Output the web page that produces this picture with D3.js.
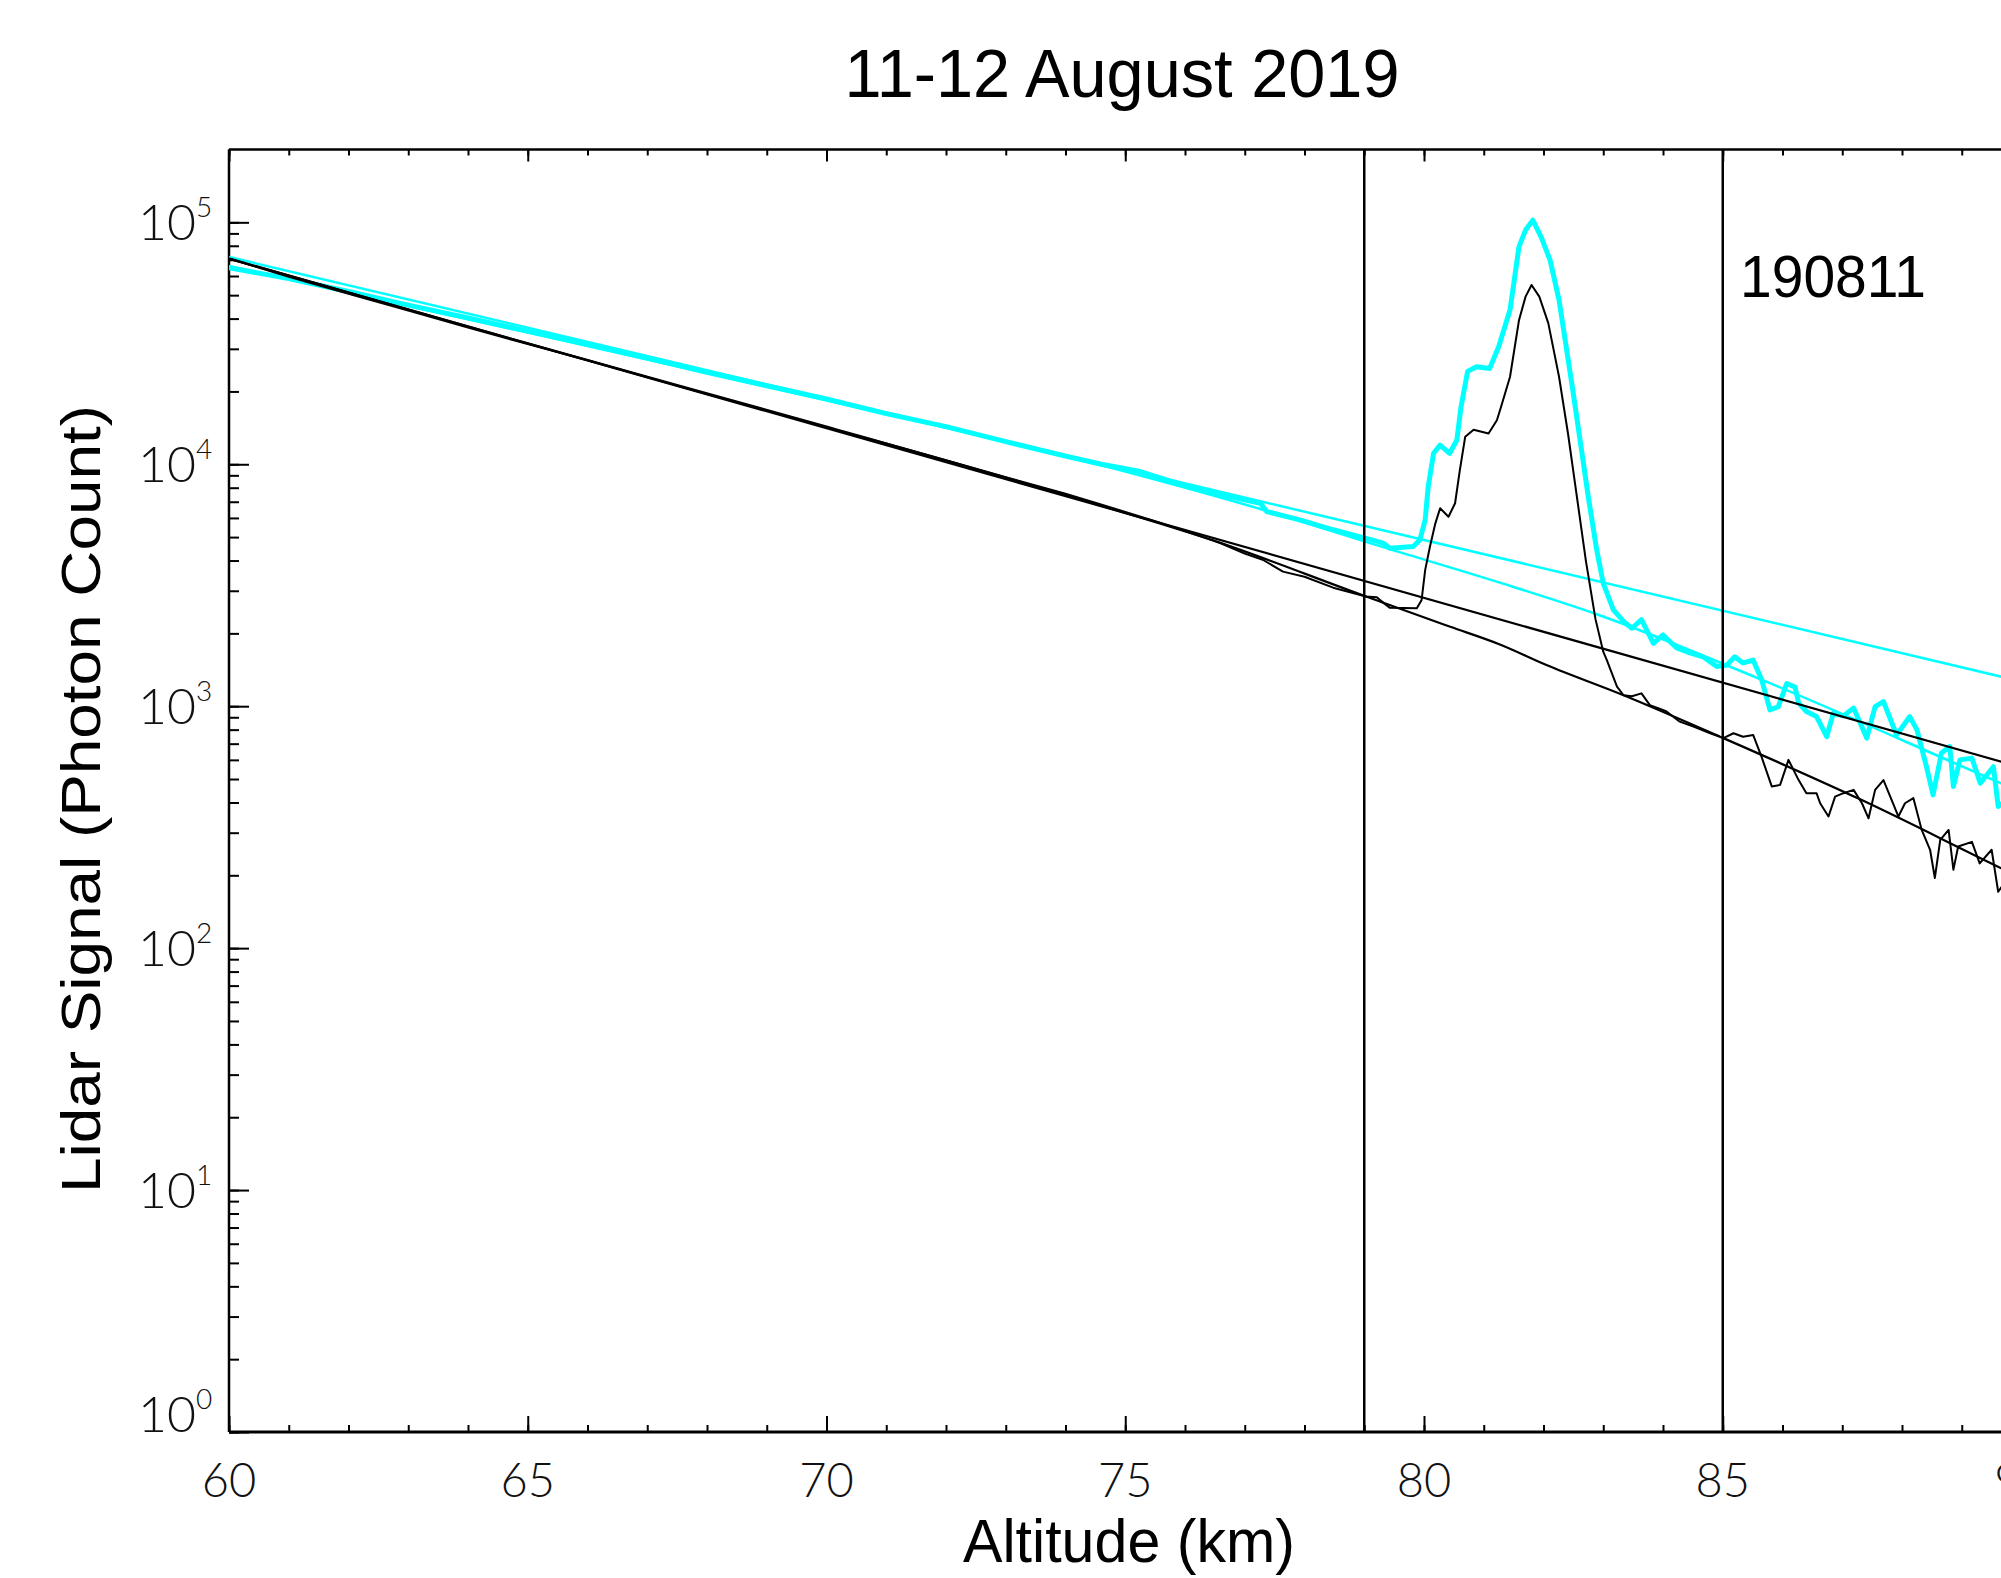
<!DOCTYPE html>
<html><head><meta charset="utf-8">
<script src="https://cdn.jsdelivr.net/npm/d3@7"></script>
<style>html,body{margin:0;padding:0;background:#fff;} svg{display:block;}</style>
</head><body>
<svg id="chart" width="2001" height="1578"></svg>
<script>
// ---------- text ----------
const titleText = "11-12 August 2019";
const xLabelText = "Altitude (km)";
const yLabelText = "Lidar Signal (Photon Count)";
const profileLabel = "190811";

// ---------- axes ----------
const xDomain = [60, 90];
const yDomain = [1, 2e5];
const xMajorTicks = [60, 65, 70, 75, 80, 85, 90];
const xTickLabels = ["60", "65", "70", "75", "80", "85", "90"];
const yExponents = [0, 1, 2, 3, 4, 5];
const markerAltitudes = [79, 85];

// ---------- profile 1 (cyan, thick) ----------
const cyanAlt = [60,61,62,63,64,65,66,67,68,69,70,71,72,73,74,74.6,75.25,75.97,76.64,77.26,77.37,77.92,78.48,79.03,
  79.32,79.43,79.82,79.93,80.02,80.07,80.16,80.27,80.43,80.55,80.62,80.73,80.88,81.1,81.25,81.44,81.59,81.7,81.82,81.96,
  82.11,82.26,82.49,82.75,82.89,83.0,83.17,83.34,83.48,83.64,83.84,84.0,84.23,84.45,84.67,84.9,85.07,85.2,85.34,85.51,
  85.65,85.79,85.93,86.07,86.21,86.27,86.4,86.57,86.74,86.85,87.02,87.19,87.41,87.55,87.69,87.91,88.13,88.25,88.41,88.52,
  88.66,88.8,88.86,88.97,89.17,89.31,89.53,89.61,89.8];
const cyanCounts = [65000,58500,51800,45500,40300,35500,31300,27500,24000,21100,18600,16200,14300,12400,10800,10000,9330,8200,7460,6900,6370,5890,5360,4940,
  4720,4500,4570,4860,5890,8070,11100,12000,11100,12600,17300,24200,25300,24900,30600,43500,79300,92900,102000,87100,
  69800,47800,20300,7330,4430,3220,2500,2240,2100,2280,1820,1970,1740,1660,1600,1460,1480,1600,1510,1550,
  1290,966,995,1240,1200,1030,951,906,748,935,912,982,738,995,1045,760,906,798,562,430,
  640,681,466,600,610,481,562,385,417];

// ---------- profile 2 (black, thin) ----------
const blackAlt = [60,61,62,63,64,65,66,67,68,69,70,71,72,73,74,74.58,75.5,76.53,77.0,77.3,77.64,78.0,78.48,79.03,
  79.21,79.3,79.43,79.88,79.96,80.02,80.1,80.19,80.27,80.41,80.52,80.6,80.69,80.83,81.08,81.22,81.29,81.44,81.59,81.7,
  81.8,81.93,82.08,82.26,82.41,82.71,82.87,83.0,83.06,83.23,83.34,83.48,83.64,83.78,83.92,84.06,84.28,84.51,84.79,85.01,
  85.18,85.34,85.51,85.65,85.82,85.96,86.1,86.27,86.4,86.57,86.63,86.77,86.88,87.02,87.19,87.33,87.44,87.55,87.69,87.85,
  87.94,88.05,88.19,88.33,88.47,88.55,88.64,88.78,88.86,88.94,89.17,89.3,89.5,89.61,89.8];
const blackCounts = [70800,59600,50700,43200,36700,31400,26900,22900,19500,16700,14200,12200,10400,8850,7550,6840,5820,4790,4270,4030,3600,3430,3090,2840,
  2820,2700,2550,2540,2750,3660,4570,5700,6580,6070,6900,9460,13000,13900,13400,15200,17300,23000,39400,49300,
  55100,49300,38300,23000,13400,3980,2290,1680,1550,1205,1110,1100,1130,1010,982,951,863,824,773,738,
  773,748,760,617,466,473,600,495,437,437,397,350,423,437,451,397,344,451,495,397,
  350,397,417,308,255,195,280,308,211,263,275,224,255,171,200];

// ---------- fitted background lines ----------
const cyanFitAAlt = [60, 90];
const cyanFitACounts = [71900, 1265];
const cyanFitBAlt = [60, 65, 70, 75, 77.4, 79.37, 81.27, 82.89, 85.79, 89.66, 90];
const cyanFitBCounts = [66000, 35000, 18400, 9330, 6380, 4500, 3240, 2400, 1245, 480, 442];
const blackFitAAlt = [60, 90];
const blackFitACounts = [70800, 558];
const blackFitBAlt = [60, 65, 70, 74.58, 76.53, 79.03, 80.44, 81.27, 82.05, 83.34, 85.01, 87.3, 89.66, 90];
const blackFitBCounts = [70800, 31600, 14300, 6760, 4790, 2840, 2130, 1800, 1480, 1110, 738, 412, 214, 195];

// ---------- drawing ----------
const svg = d3.select("#chart");
const X0 = 229, X1 = 2021.5, Y0 = 1432, Y1 = 149.5;
const x = d3.scaleLinear().domain(xDomain).range([X0, X1]);
const y = d3.scaleLog().domain(yDomain).range([Y0, Y1]);

svg.append("rect").attr("width", 2001).attr("height", 1578).attr("fill", "#fff");
svg.append("defs").append("clipPath").attr("id", "plotclip")
  .append("rect").attr("x", X0).attr("y", Y1).attr("width", X1 - X0).attr("height", Y0 - Y1);

function styleAxis(g) {
  g.select(".domain").remove();
  g.selectAll(".tick line").attr("stroke", "#000").attr("stroke-width", 2);
  g.selectAll(".tick text").remove();
}
const xMinor = d3.range(xDomain[0], xDomain[1] + 1, 1);
svg.append("g").attr("transform", `translate(0,${Y0})`)
  .call(d3.axisBottom(x).tickValues(xMinor).tickSize(-7).tickFormat("")).call(styleAxis);
svg.append("g").attr("transform", `translate(0,${Y0})`)
  .call(d3.axisBottom(x).tickValues(xMajorTicks).tickSize(-16).tickFormat("")).call(styleAxis);
svg.append("g").attr("transform", `translate(0,${Y1})`)
  .call(d3.axisTop(x).tickValues(xMinor).tickSize(-6).tickFormat("")).call(styleAxis);
svg.append("g").attr("transform", `translate(0,${Y1})`)
  .call(d3.axisTop(x).tickValues(xMajorTicks).tickSize(-12).tickFormat("")).call(styleAxis);

const yMajor = yExponents.map(e => Math.pow(10, e));
const yMinor = y.ticks().filter(v => v < yDomain[1]);
svg.append("g").attr("transform", `translate(${X0},0)`)
  .call(d3.axisLeft(y).tickValues(yMinor).tickSize(-10).tickFormat("")).call(styleAxis);
svg.append("g").attr("transform", `translate(${X0},0)`)
  .call(d3.axisLeft(y).tickValues(yMajor).tickSize(-20).tickFormat("")).call(styleAxis);

// frame
const frame = svg.append("g").attr("stroke", "#000").attr("stroke-width", 2.5).attr("fill", "none");
frame.append("line").attr("x1", X0).attr("x2", X0).attr("y1", Y1).attr("y2", Y0);
frame.append("line").attr("x1", X0).attr("x2", X1).attr("y1", Y0).attr("y2", Y0).attr("stroke-width", 3);
frame.append("line").attr("x1", X0).attr("x2", X1).attr("y1", Y1).attr("y2", Y1);

// tick labels
const tickFont = "Lato, 'DejaVu Sans', sans-serif";
svg.append("g").selectAll("text").data(xMajorTicks).join("text")
  .attr("x", d => x(d)).attr("y", 1497)
  .attr("text-anchor", "middle").attr("font-family", tickFont).attr("font-weight", 300)
  .attr("font-size", 47).attr("fill", "#111")
  .text((d, i) => xTickLabels[i]);

const yl = svg.append("g").attr("font-family", tickFont).attr("font-weight", 300).attr("fill", "#111");
yExponents.forEach((e, i) => {
  const ty = y(Math.pow(10, e));
  const shift = i === 0 ? -18 : 0;
  yl.append("text").attr("x", 196).attr("y", ty + 18 + shift).attr("text-anchor", "end")
    .attr("font-size", 50).text("10");
  yl.append("text").attr("x", 196).attr("y", ty - 5 + shift).attr("text-anchor", "start")
    .attr("font-size", 28).text(String(e));
});

// data
const plot = svg.append("g").attr("clip-path", "url(#plotclip)");
const zip = (a, b) => a.map((v, i) => [v, b[i]]);
const line = d3.line().x(d => x(d[0])).y(d => y(d[1]));
const smooth = d3.line().x(d => x(d[0])).y(d => y(d[1])).curve(d3.curveMonotoneX);

plot.append("path").attr("d", line(zip(cyanAlt, cyanCounts)))
  .attr("fill", "none").attr("stroke", "#00ffff").attr("stroke-width", 5).attr("stroke-linejoin", "round");
plot.append("path").attr("d", line(zip(cyanFitAAlt, cyanFitACounts)))
  .attr("fill", "none").attr("stroke", "#00ffff").attr("stroke-width", 2.5);
plot.append("path").attr("d", smooth(zip(cyanFitBAlt, cyanFitBCounts)))
  .attr("fill", "none").attr("stroke", "#00ffff").attr("stroke-width", 2.5);

plot.append("path").attr("d", line(zip(blackAlt, blackCounts)))
  .attr("fill", "none").attr("stroke", "#000").attr("stroke-width", 2).attr("stroke-linejoin", "round");
plot.append("path").attr("d", line(zip(blackFitAAlt, blackFitACounts)))
  .attr("fill", "none").attr("stroke", "#000").attr("stroke-width", 2.2);
plot.append("path").attr("d", smooth(zip(blackFitBAlt, blackFitBCounts)))
  .attr("fill", "none").attr("stroke", "#000").attr("stroke-width", 2.2);

// marker lines
plot.selectAll("line.marker").data(markerAltitudes).join("line").attr("class", "marker")
  .attr("x1", d => x(d)).attr("x2", d => x(d)).attr("y1", Y1).attr("y2", Y0)
  .attr("stroke", "#000").attr("stroke-width", 2.5);

// texts
const labelFont = "'Liberation Sans', Arial, Helvetica, sans-serif";
svg.append("text").attr("x", 1122).attr("y", 97).attr("text-anchor", "middle")
  .attr("font-family", labelFont).attr("font-size", 68)
  .attr("textLength", 555).attr("lengthAdjust", "spacingAndGlyphs").text(titleText);
svg.append("text").attr("x", 1129).attr("y", 1562).attr("text-anchor", "middle")
  .attr("font-family", labelFont).attr("font-size", 62)
  .attr("textLength", 332).attr("lengthAdjust", "spacingAndGlyphs").text(xLabelText);
svg.append("text").attr("transform", "translate(100,799) rotate(-90)").attr("text-anchor", "middle")
  .attr("font-family", labelFont).attr("font-size", 56)
  .attr("textLength", 788).attr("lengthAdjust", "spacingAndGlyphs").text(yLabelText);
svg.append("text").attr("x", 1740).attr("y", 297).attr("text-anchor", "start")
  .attr("font-family", labelFont).attr("font-size", 60)
  .attr("textLength", 186).attr("lengthAdjust", "spacingAndGlyphs").text(profileLabel);
</script>
</body></html>
